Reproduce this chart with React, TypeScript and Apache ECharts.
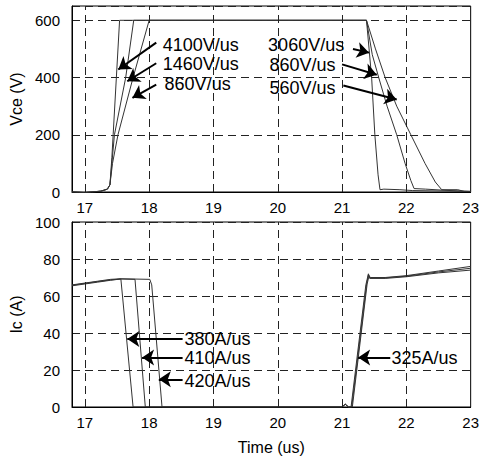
import React, { useEffect, useRef } from "react";
import * as echarts from "echarts";

// ---- axes / ticks ----
const xTicks = [17, 18, 19, 20, 21, 22, 23];
const vceTicks = [0, 200, 400, 600];
const icTicks = [0, 20, 40, 60, 80, 100];

// ---- Vce traces (time us, volts) ----
const vceFast: [number, number][] = [
  [16.8, 0], [16.9, -1], [17.0, -2], [17.1, 0], [17.25, 3], [17.35, 10], [17.39, 25],
  [17.42, 120], [17.44, 200], [17.49, 400], [17.54, 600],
  [21.38, 600], [21.42, 500], [21.46, 400], [21.51, 200], [21.56, 60], [21.59, 8],
  [21.65, 10], [21.9, 8], [22.1, 5], [23, 2],
];
const vceMid: [number, number][] = [
  [16.8, 0], [16.9, -1], [17.0, -2], [17.1, 0], [17.25, 3], [17.35, 10], [17.39, 25],
  [17.42, 100], [17.46, 200], [17.635, 400], [17.76, 600],
  [21.38, 600], [21.47, 480], [21.57, 400], [21.7, 300], [21.85, 200], [21.98, 100],
  [22.07, 40], [22.12, 12], [22.3, 10], [22.6, 6], [23, 2],
];
const vceSlow: [number, number][] = [
  [16.8, 0], [16.9, -1], [17.0, -2], [17.1, 0], [17.25, 3], [17.35, 10], [17.39, 25],
  [17.43, 100], [17.515, 200], [17.75, 400], [18.0, 600],
  [21.38, 600], [21.52, 500], [21.67, 400], [21.85, 300], [22.07, 200], [22.29, 100],
  [22.45, 35], [22.55, 8], [22.8, 8], [22.9, 2], [23, 2],
];

// ---- Ic traces (time us, amps) ----
const icFast: [number, number][] = [
  [16.8, 65.5], [17.0, 66.5], [17.2, 67.5], [17.4, 68.5], [17.56, 69.2],
  [17.75, 0], [21.0, 0], [21.05, 1.5], [21.1, 0], [21.15, 0],
  [21.38, 66], [21.41, 71.5], [21.43, 69.5], [21.67, 69.5], [22.0, 70.4], [22.5, 72.5], [23, 74],
];
const icMid: [number, number][] = [
  [16.8, 65.8], [17.0, 66.8], [17.2, 67.8], [17.4, 68.7], [17.56, 69.2], [17.78, 69],
  [17.94, 0], [21.0, 0], [21.05, 1.5], [21.1, 0], [21.14, 0],
  [21.37, 66], [21.41, 72], [21.43, 69.8], [21.67, 69.8], [22.0, 70.7], [22.5, 73], [23, 75],
];
const icSlow: [number, number][] = [
  [16.8, 66], [17.0, 67], [17.2, 68], [17.4, 69], [17.56, 69.3], [18.01, 69],
  [18.04, 66], [18.2, 0], [21.0, 0], [21.05, 1.5], [21.1, 0], [21.16, 0],
  [21.39, 66.5], [21.42, 71], [21.44, 70], [21.67, 70], [22.0, 71], [22.5, 73.5], [23, 76],
];

// ---- annotations ----
const vceLabels = [
  { text: "4100V/us", x: 18.21, y: 513 },
  { text: "1460V/us", x: 18.21, y: 446 },
  { text: "860V/us", x: 18.24, y: 378 },
  { text: "3060V/us", x: 19.85, y: 513 },
  { text: "860V/us", x: 19.87, y: 445 },
  { text: "560V/us", x: 19.87, y: 362 },
];
const vceArrows = [
  [[18.11, 522], [17.52, 428]],
  [[18.11, 450], [17.66, 387]],
  [[18.11, 375], [17.74, 329]],
  [[21.17, 500], [21.42, 487]],
  [[21.0, 446], [21.54, 410]],
  [[21.02, 372], [21.85, 323]],
];
const icLabels = [
  { text: "380A/us", x: 18.55, y: 36.8 },
  { text: "410A/us", x: 18.55, y: 26.3 },
  { text: "420A/us", x: 18.55, y: 13.9 },
  { text: "325A/us", x: 21.77, y: 26.3 },
];
const icArrows = [
  [[18.52, 36.8], [17.66, 36.8]],
  [[18.52, 26.8], [17.89, 26.8]],
  [[18.52, 15], [18.15, 15]],
  [[21.75, 26.8], [21.25, 26.8]],
];

const FONT = "'Liberation Sans', Arial, sans-serif";
const DASH = { color: "#222", width: 1, type: [8, 5] as any };

export default function App() {
  const ref = useRef<HTMLDivElement>(null);
  useEffect(() => {
    if (!ref.current) return;
    const chart = echarts.init(ref.current, undefined, { renderer: "svg" });

    const gridLines = (xs: number[]) => ({
      silent: true,
      symbol: ["none", "none"],
      label: { show: false },
      lineStyle: DASH,
      data: xs.filter((v) => v < 23).map((v) => ({ xAxis: v })),
    });
    const arrows = (arr: number[][][]) => ({
      silent: true,
      symbol: ["none", "arrow"],
      symbolSize: 12,
      label: { show: false },
      lineStyle: { color: "#000", width: 2, type: "solid" },
      data: arr.map((a) => [{ coord: a[0] }, { coord: a[1] }]),
    });
    const texts = (labs: { text: string; x: number; y: number }[]) => ({
      silent: true,
      symbol: "circle",
      symbolSize: 0,
      data: labs.map((l) => ({
        coord: [l.x, l.y],
        value: l.text,
        label: {
          show: true,
          position: "right",
          distance: 0,
          formatter: l.text,
          color: "#000",
          fontSize: 18,
          lineHeight: 16,
          fontFamily: FONT,
        },
      })),
    });

    const lineSeries = (data: [number, number][], idx: number, extra: any = {}) => ({
      type: "line",
      xAxisIndex: idx,
      yAxisIndex: idx,
      data,
      symbol: "none",
      lineStyle: { color: "#333", width: 1 },
      ...extra,
    });

    const xAxisBase = (idx: number, withName: boolean) => ({
      type: "value",
      gridIndex: idx,
      min: 16.8,
      max: 23,
      axisLine: { show: true, onZero: false, lineStyle: { color: "#000" } },
      axisTick: { show: false },
      splitLine: { show: false },
      axisLabel: {
        customValues: xTicks,
        color: "#000",
        fontSize: 15,
        fontFamily: FONT,
        margin: 8,
      },
      name: withName ? "Time (us)" : "",
      nameLocation: "middle",
      nameGap: 32,
      nameTextStyle: { color: "#000", fontSize: 16, fontFamily: FONT },
    });

    chart.setOption({
      animation: false,
      backgroundColor: "#fff",
      grid: [
        { left: 72, right: 10, top: 6, height: 186, show: true, borderColor: "#000", borderWidth: 1 },
        { left: 72, right: 10, top: 222, height: 185, show: true, borderColor: "#000", borderWidth: 1 },
      ],
      xAxis: [xAxisBase(0, false), xAxisBase(1, true)],
      yAxis: [
        {
          type: "value",
          gridIndex: 0,
          min: 0,
          max: 650,
          interval: 200,
          axisLine: { show: true, lineStyle: { color: "#000" } },
          axisTick: { show: false },
          splitLine: { show: true, lineStyle: DASH },
          axisLabel: {
            color: "#000",
            fontSize: 15,
            fontFamily: FONT,
            margin: 12,
            formatter: (v: number) => (vceTicks.includes(v) ? String(v) : ""),
          },
          name: "Vce (V)",
          nameLocation: "middle",
          nameGap: 44,
          nameTextStyle: { color: "#000", fontSize: 16, fontFamily: FONT },
        },
        {
          type: "value",
          gridIndex: 1,
          min: 0,
          max: 100,
          interval: 20,
          axisLine: { show: true, lineStyle: { color: "#000" } },
          axisTick: { show: false },
          splitLine: { show: true, lineStyle: DASH },
          axisLabel: {
            color: "#000",
            fontSize: 15,
            fontFamily: FONT,
            margin: 12,
            formatter: (v: number) => (icTicks.includes(v) ? String(v) : ""),
          },
          name: "Ic (A)",
          nameLocation: "middle",
          nameGap: 44,
          nameTextStyle: { color: "#000", fontSize: 16, fontFamily: FONT },
        },
      ],
      series: [
        lineSeries(vceFast, 0, { markLine: gridLines(xTicks) }),
        lineSeries(vceMid, 0, { markLine: arrows(vceArrows) }),
        lineSeries(vceSlow, 0, { markPoint: texts(vceLabels) }),
        lineSeries(icFast, 1, { markLine: gridLines(xTicks) }),
        lineSeries(icMid, 1, { markLine: arrows(icArrows) }),
        lineSeries(icSlow, 1, { markPoint: texts(icLabels) }),
      ],
    });
    return () => chart.dispose();
  }, []);
  return (
    <div
      ref={ref}
      style={{ position: "fixed", left: 0, top: 0, width: 482, height: 457, background: "#fff" }}
    />
  );
}
